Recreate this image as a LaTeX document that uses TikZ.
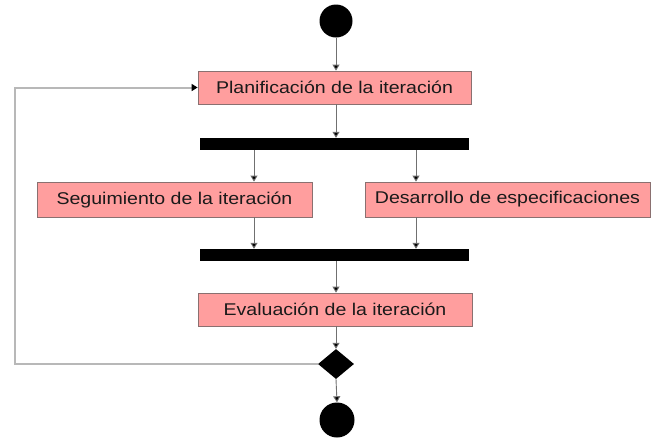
\documentclass[tikz,border=0pt]{standalone}
\usepackage{fontspec}
\setmainfont{Liberation Sans}[FakeStretch=1.15]
\usetikzlibrary{arrows.meta,shapes.geometric}
\definecolor{boxfill}{HTML}{FF9E9E}
\definecolor{boxdraw}{HTML}{8A7070}
\definecolor{conn}{HTML}{707070}
\definecolor{loopc}{HTML}{B8B8B8}
\definecolor{txt}{HTML}{1A1A1A}
\tikzset{
  act/.style={draw=boxdraw, line width=0.8pt, fill=boxfill, rectangle, inner sep=0pt,
    text=txt, font=\fontsize{17}{20}\selectfont},
  bar/.style={fill=black, draw=none, rectangle, inner sep=0pt},
  dot/.style={fill=black, draw=none, circle, inner sep=0pt},
  dec/.style={fill=black, draw=none, diamond, inner sep=0pt},
  arr/.style={draw=conn, line width=0.9pt, -{Triangle[length=6pt,width=7pt,fill=black]}},
  looparr/.style={draw=loopc, line width=2pt, -{Triangle[length=6pt,width=7pt,fill=black,color=black]}},
}
\begin{document}
\begin{tikzpicture}[x=1pt,y=-1pt]
\useasboundingbox (0,0) rectangle (658,440);
\node[dot, minimum size=33pt] (start) at (336,21) {};
\node[act, minimum width=273pt, minimum height=33pt] (plan) at (334.5,87.5) {Planificación de la iteración};
\node[bar, minimum width=269pt, minimum height=12pt] (fork1) at (334.5,144) {};
\node[act, minimum width=275pt, minimum height=35pt] (seg) at (174.5,199.5) {Seguimiento de la iteración};
\node[act, minimum width=285pt, minimum height=35pt] (des) at (507.5,199.5) {Desarrollo de especificaciones};
\node[bar, minimum width=269pt, minimum height=12pt] (fork2) at (334.5,255) {};
\node[act, minimum width=274pt, minimum height=33pt] (eval) at (335,309.5) {Evaluación de la iteración};
\node[dec, minimum width=36pt, minimum height=30pt] (dec) at (336,364) {};
\node[dot, minimum size=35pt] (end) at (337,420) {};
\coordinate (xc) at (336,0);
\coordinate (xl) at (254,0);
\coordinate (xr) at (416,0);
\coordinate (lx) at (15,0);
\draw[arr] (start.south -| xc) -- (plan.north -| xc);
\draw[arr] (plan.south -| xc) -- (fork1.north -| xc);
\draw[arr] (fork1.south -| xl) -- (seg.north -| xl);
\draw[arr] (fork1.south -| xr) -- (des.north -| xr);
\draw[arr] (seg.south -| xl) -- (fork2.north -| xl);
\draw[arr] (des.south -| xr) -- (fork2.north -| xr);
\draw[arr] (fork2.south -| xc) -- (eval.north -| xc);
\draw[arr] (eval.south -| xc) -- (dec.north);
\draw[arr] (dec.south) -- (end.north);
\draw[looparr] (dec.west) -- (dec.west -| lx) -- (plan.west -| lx) -- (plan.west);
\end{tikzpicture}
\end{document}
